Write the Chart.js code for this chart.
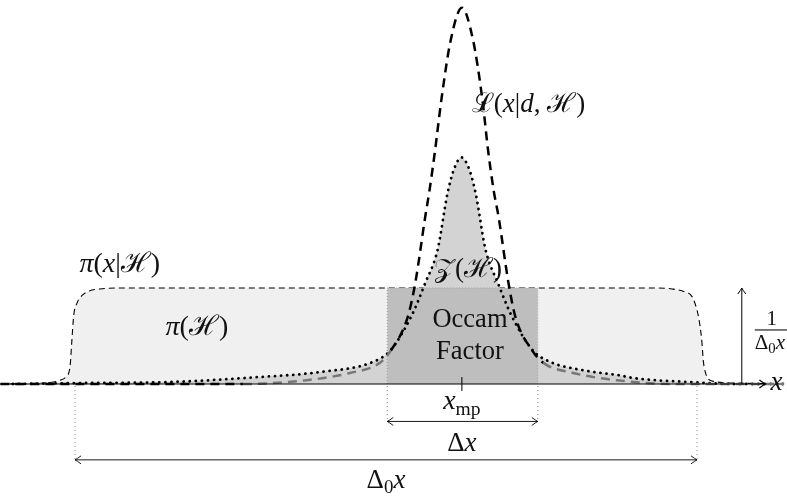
<!DOCTYPE html>
<html>
<head>
<meta charset="utf-8">
<script src="https://cdn.jsdelivr.net/npm/chart.js@4/dist/chart.umd.min.js"></script>
<style>
  html, body { margin: 0; padding: 0; background: #fff; }
  #wrap { width: 787px; height: 497px; }
</style>
</head>
<body>
<div id="wrap"><canvas id="occam" width="787" height="497"></canvas></div>
<script>
// prior pi(x|H): a smoothed box, height 1 = 1/Delta0x
const priorX = [-6.2, -5.51, -5.24, -5.14, -5.08, -5.05, -5.02, -4.97, -4.89, -4.77, -4.6, -4.3,
  4.3, 4.6, 4.8, 4.92, 5.0, 5.05, 5.08, 5.1, 5.14, 5.21, 5.58, 6.4];
const priorY = [0, 0.01, 0.04, 0.08, 0.18, 0.46, 0.72, 0.84, 0.92, 0.97, 0.99, 1.0,
  1.0, 0.99, 0.96, 0.91, 0.77, 0.6, 0.43, 0.25, 0.11, 0.04, 0.01, 0];

// dotted curve (filled), peak under Z(H)
const posteriorX = [-6.0, -4.9, -3.5, -2.1, -1.06, -0.21, 0.07, 0.41, 0.63, 0.83, 0.99, 1.1, 1.214,
  1.33, 1.44, 1.6, 1.8, 2.02, 2.36, 2.64, 3.2, 3.76, 4.0, 4.9, 5.6, 6.4];
const posteriorY = [0, 0.01, 0.02, 0.07, 0.125, 0.23, 0.35, 0.71, 1.05, 1.4, 1.99, 2.25, 2.36,
  2.25, 1.99, 1.4, 1.05, 0.71, 0.35, 0.23, 0.14, 0.09, 0.06, 0.02, 0, 0];

// likelihood L(x|d,H), thick dashed
const likelihoodX = [-6.2, -2.3, -1.27, -0.58, -0.1, 0.08, 0.35, 0.47, 0.63, 0.7, 0.79, 0.89, 1.04, 1.22,
  1.4, 1.55, 1.64, 1.73, 1.81, 1.97, 2.08, 2.35, 2.53, 3.01, 3.7, 4.7, 6.4];
const likelihoodY = [0, 0, 0.04, 0.115, 0.22, 0.35, 0.7, 1.05, 1.74, 2.02, 2.44, 2.96, 3.58, 3.92,
  3.58, 2.96, 2.44, 2.02, 1.74, 1.05, 0.7, 0.35, 0.22, 0.115, 0.04, 0, 0];

const xMostProbable = 1.22;
const occamSpan = [0.02, 2.44];
const priorSpan = [-5, 5];
const priorHeight = 1;
const axisSpan = [-6.13, 6.1];
const heightMarkX = 5.72;
const deltaRows = [-0.39, -0.79];

const pts = (xs, ys) => xs.map((x, i) => ({ x, y: ys[i] }));
const serif = "'Liberation Serif', 'DejaVu Serif', serif";

function drawRuns(ctx, runs, x, y, size, align) {
  const parts = runs.map(([t, st]) => {
    const sub = st === 'sub';
    const s = sub ? size * 0.7 : size;
    const f = (st === 'i' ? 'italic ' : '') + s + 'px ' + serif;
    ctx.font = f;
    return { t, sub, f, w: ctx.measureText(t).width };
  });
  const total = parts.reduce((a, p) => a + p.w, 0);
  let cx = align === 'left' ? x : x - total / 2;
  ctx.textAlign = 'left';
  ctx.textBaseline = 'middle';
  parts.forEach(p => {
    ctx.font = p.f;
    ctx.fillText(p.t, cx, p.sub ? y + size * 0.28 : y);
    cx += p.w;
  });
}

function arrowHead(ctx, x, y, dir) {
  ctx.beginPath();
  if (dir === 'r') { ctx.moveTo(x - 6, y - 4); ctx.quadraticCurveTo(x - 2, y - 1, x, y); ctx.quadraticCurveTo(x - 2, y + 1, x - 6, y + 4); }
  if (dir === 'l') { ctx.moveTo(x + 6, y - 4); ctx.quadraticCurveTo(x + 2, y - 1, x, y); ctx.quadraticCurveTo(x + 2, y + 1, x + 6, y + 4); }
  if (dir === 'u') { ctx.moveTo(x - 4, y + 6); ctx.quadraticCurveTo(x - 1, y + 2, x, y); ctx.quadraticCurveTo(x + 1, y + 2, x + 4, y + 6); }
  ctx.stroke();
}

const annotations = {
  id: 'annotations',
  afterDatasetsDraw(chart) {
    const { ctx, scales: { x, y } } = chart;
    const X = v => x.getPixelForValue(v);
    const Y = v => y.getPixelForValue(v);
    ctx.save();
    ctx.strokeStyle = '#000';
    ctx.fillStyle = '#000';
    ctx.lineWidth = 1.2;

    // x axis with arrow
    ctx.beginPath();
    ctx.moveTo(X(axisSpan[0]), Y(0));
    ctx.lineTo(X(axisSpan[1]), Y(0));
    ctx.stroke();
    arrowHead(ctx, X(axisSpan[1]), Y(0), 'r');

    // height mark 1/Delta0x
    ctx.lineWidth = 1;
    ctx.beginPath();
    ctx.moveTo(X(heightMarkX), Y(0));
    ctx.lineTo(X(heightMarkX), Y(priorHeight));
    ctx.stroke();
    arrowHead(ctx, X(heightMarkX), Y(priorHeight), 'u');

    // x_mp tick
    ctx.beginPath();
    ctx.moveTo(X(xMostProbable), Y(0) - 7);
    ctx.lineTo(X(xMostProbable), Y(0) + 7);
    ctx.stroke();

    // dotted guides
    ctx.strokeStyle = '#8a8a8a';
    ctx.setLineDash([1, 3]);
    [[occamSpan, deltaRows[0]], [priorSpan, deltaRows[1]]].forEach(([span, row]) => {
      span.forEach(v => {
        ctx.beginPath();
        ctx.moveTo(X(v), Y(0) + 2);
        ctx.lineTo(X(v), Y(row));
        ctx.stroke();
      });
    });
    ctx.setLineDash([]);

    // span arrows
    ctx.strokeStyle = '#000';
    ctx.lineWidth = 0.9;
    [[occamSpan, deltaRows[0]], [priorSpan, deltaRows[1]]].forEach(([span, row]) => {
      ctx.beginPath();
      ctx.moveTo(X(span[0]), Y(row));
      ctx.lineTo(X(span[1]), Y(row));
      ctx.stroke();
      arrowHead(ctx, X(span[0]), Y(row), 'l');
      arrowHead(ctx, X(span[1]), Y(row), 'r');
    });

    // labels
    ctx.fillStyle = '#111';
    drawRuns(ctx, [['ℒ', 'r'], ['(', 'r'], ['x', 'i'], ['|', 'r'], ['d', 'i'], [', ', 'r'], ['ℋ', 'r'], [')', 'r']], X(1.38), Y(2.91), 27, 'left');
    drawRuns(ctx, [['π', 'i'], ['(', 'r'], ['x', 'i'], ['|', 'r'], ['ℋ', 'r'], [')', 'r']], X(-4.28), Y(1.24), 28);
    drawRuns(ctx, [['π', 'i'], ['(', 'r'], ['ℋ', 'r'], [')', 'r']], X(-3.04), Y(0.59), 28);
    drawRuns(ctx, [['𝒵', 'r'], ['(', 'r'], ['ℋ', 'r'], [')', 'r']], X(1.32), Y(1.19), 27);
    drawRuns(ctx, [['Occam', 'r']], X(1.35), Y(0.67), 26.5);
    drawRuns(ctx, [['Factor', 'r']], X(1.35), Y(0.33), 26.5);
    drawRuns(ctx, [['x', 'i'], ['mp', 'sub']], X(xMostProbable), Y(0) + 18, 28);
    drawRuns(ctx, [['Δ', 'r'], ['x', 'i']], X(xMostProbable), Y(deltaRows[0]) + 22, 27);
    drawRuns(ctx, [['Δ', 'r'], ['0', 'sub'], ['x', 'i']], X((priorSpan[0] + priorSpan[1]) / 2), Y(deltaRows[1]) + 21, 27);
    drawRuns(ctx, [['x', 'i']], X(axisSpan[1]) + 5, Y(0) - 1, 27, 'left');

    // fraction 1 / Delta0 x
    const fx = X(heightMarkX) + 13;
    const fy = (Y(0) + Y(priorHeight)) / 2 - 6;
    drawRuns(ctx, [['1', 'r']], fx + 17, fy - 11, 21);
    ctx.fillStyle = '#333';
    ctx.fillRect(fx, fy - 0.7, 40, 1.3);
    ctx.fillStyle = '#111';
    drawRuns(ctx, [['Δ', 'r'], ['0', 'sub'], ['x', 'i']], fx, fy + 13, 21, 'left');
    ctx.restore();
  }
};

const grayTail = v => (v > -2.5 && v < occamSpan[0]) || (v > occamSpan[1] && v < 4.8);

new Chart(document.getElementById('occam'), {
  type: 'scatter',
  data: {
    datasets: [
      {
        data: pts(priorX, priorY), showLine: true, order: 6,
        borderColor: '#000', borderWidth: 1.1, borderDash: [6, 4],
        backgroundColor: '#f0f0f0', fill: 'origin', pointRadius: 0,
        cubicInterpolationMode: 'monotone'
      },
      {
        data: pts(posteriorX, posteriorY), showLine: true, order: 5,
        borderWidth: 0, borderColor: 'rgba(0,0,0,0)',
        backgroundColor: '#d3d3d3', fill: 'origin', pointRadius: 0,
        cubicInterpolationMode: 'monotone'
      },
      {
        data: [
          { x: occamSpan[0], y: 0 }, { x: occamSpan[0], y: priorHeight },
          { x: occamSpan[1], y: priorHeight }, { x: occamSpan[1], y: 0 }
        ],
        showLine: true, order: 4, tension: 0,
        borderColor: '#999', borderWidth: 1, borderDash: [1, 2],
        backgroundColor: '#bebebe', fill: 'origin', pointRadius: 0
      },
      {
        data: pts(posteriorX, posteriorY), showLine: true, order: 3,
        borderColor: '#000', borderWidth: 2.8, borderDash: [0.1, 6], borderCapStyle: 'round',
        fill: false, pointRadius: 0, cubicInterpolationMode: 'monotone'
      },
      {
        data: pts(likelihoodX, likelihoodY), showLine: true, order: 2,
        borderColor: '#000', borderWidth: 2.5, borderDash: [9, 6],
        fill: false, pointRadius: 0, cubicInterpolationMode: 'monotone',
        segment: { borderColor: c => grayTail(c.p0.parsed.x) ? '#777' : '#000' }
      }
    ]
  },
  options: {
    responsive: false,
    animation: false,
    layout: { padding: 0 },
    plugins: { legend: { display: false }, tooltip: { enabled: false } },
    scales: {
      x: { type: 'linear', display: false, min: -6.206, max: 6.447 },
      y: { type: 'linear', display: false, min: -1.177, max: 4.0 }
    }
  },
  plugins: [annotations]
});
</script>
</body>
</html>
